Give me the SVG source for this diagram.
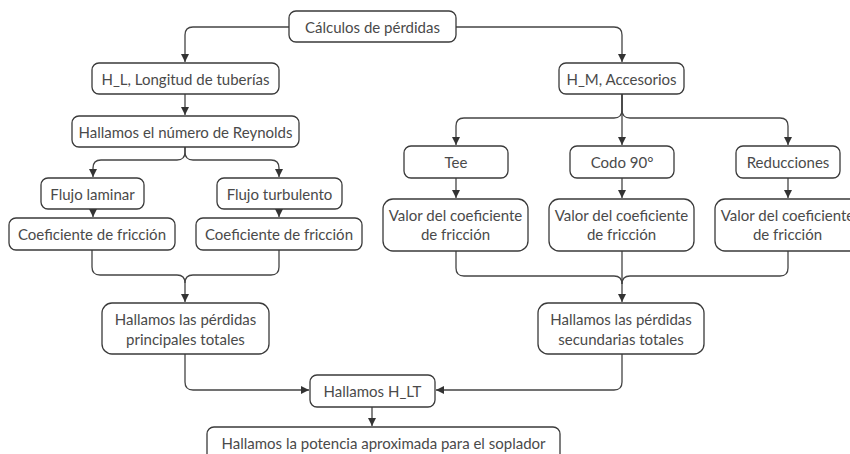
<svg xmlns="http://www.w3.org/2000/svg" width="850" height="454" viewBox="0 0 850 454">
<defs>
<style>
.b{fill:#fff;stroke:#3a3a3a;stroke-width:1.3}
.t{font-family:Lato,"Noto Sans",sans-serif;font-size:15px;fill:#4a4a4a;text-anchor:middle;dominant-baseline:central}
.c{fill:none;stroke:#444;stroke-width:1.3}
</style>
<marker id="a" viewBox="0 0 10 10" refX="10" refY="5" markerWidth="8" markerHeight="8" markerUnits="userSpaceOnUse" orient="auto">
<path d="M0,0L10,5L0,10z" fill="#333"/>
</marker>
</defs>
<rect width="850" height="454" fill="#fff"/>
<g id="connectors">
<path class="c" d="M289,27H193Q185,27 185,35V62" marker-end="url(#a)"/>
<path class="c" d="M456,27H614Q622,27 622,35V62" marker-end="url(#a)"/>
<path class="c" d="M185,94V115" marker-end="url(#a)"/>
<path class="c" d="M185,147V152Q185,160 177,160H101Q93,160 93,168V177" marker-end="url(#a)"/>
<path class="c" d="M185,147V152Q185,160 193,160H271Q279,160 279,168V177" marker-end="url(#a)"/>
<path class="c" d="M93,209V217" marker-end="url(#a)"/>
<path class="c" d="M279,209V217" marker-end="url(#a)"/>
<path class="c" d="M92,250V267Q92,275 100,275H177Q185,275 185,283V302" marker-end="url(#a)"/>
<path class="c" d="M279,250V267Q279,275 271,275H193Q185,275 185,283"/>
<path class="c" d="M622,94V110Q622,118 614,118H464Q456,118 456,126V145" marker-end="url(#a)"/>
<path class="c" d="M622,94V145" marker-end="url(#a)"/>
<path class="c" d="M622,94V110Q622,118 630,118H780Q788,118 788,126V145" marker-end="url(#a)"/>
<path class="c" d="M456,178V198" marker-end="url(#a)"/>
<path class="c" d="M622,178V198" marker-end="url(#a)"/>
<path class="c" d="M788,178V198" marker-end="url(#a)"/>
<path class="c" d="M456,251V268Q456,276 464,276H614Q622,276 622,284V302" marker-end="url(#a)"/>
<path class="c" d="M622,251V284"/>
<path class="c" d="M788,251V268Q788,276 780,276H630Q622,276 622,284"/>
<path class="c" d="M185,354V382Q185,390 193,390H309" marker-end="url(#a)"/>
<path class="c" d="M622,354V382Q622,390 614,390H436" marker-end="url(#a)"/>
<path class="c" d="M372,407V426" marker-end="url(#a)"/>
</g>
<g id="root"><rect class="b" x="289" y="11" width="167" height="31" rx="7"/><text class="t" x="372.5" y="26.5">Cálculos de pérdidas</text></g>
<g id="hl"><rect class="b" x="92" y="63" width="187" height="31" rx="7"/><text class="t" x="185.5" y="78.5">H_L, Longitud de tuberías</text></g>
<g id="hm"><rect class="b" x="559" y="63" width="125" height="31" rx="7"/><text class="t" x="621.5" y="78.5">H_M, Accesorios</text></g>
<g id="reynolds"><rect class="b" x="72" y="116" width="227" height="31" rx="7"/><text class="t" x="185.5" y="131.5">Hallamos el número de Reynolds</text></g>
<g id="laminar"><rect class="b" x="41" y="178" width="103" height="31" rx="7"/><text class="t" x="92.5" y="193.5">Flujo laminar</text></g>
<g id="turbulento"><rect class="b" x="217" y="178" width="125" height="31" rx="7"/><text class="t" x="279.5" y="193.5">Flujo turbulento</text></g>
<g id="coef1"><rect class="b" x="9" y="218" width="166" height="32" rx="7"/><text class="t" x="92" y="234">Coeficiente de fricción</text></g>
<g id="coef2"><rect class="b" x="196" y="218" width="166" height="32" rx="7"/><text class="t" x="279" y="234">Coeficiente de fricción</text></g>
<g id="principal"><rect class="b" x="102" y="303" width="167" height="51" rx="10"/><text class="t" x="185.5" y="319">Hallamos las pérdidas</text><text class="t" x="185.5" y="339">principales totales</text></g>
<g id="tee"><rect class="b" x="404" y="146" width="104" height="32" rx="7"/><text class="t" x="456" y="162">Tee</text></g>
<g id="codo"><rect class="b" x="570" y="146" width="104" height="32" rx="7"/><text class="t" x="622" y="162">Codo 90°</text></g>
<g id="reducciones"><rect class="b" x="736" y="146" width="104" height="32" rx="7"/><text class="t" x="788" y="162">Reducciones</text></g>
<g id="valor1"><rect class="b" x="383" y="199" width="145" height="52" rx="10"/><text class="t" x="455.5" y="215">Valor del coeficiente</text><text class="t" x="455.5" y="234">de fricción</text></g>
<g id="valor2"><rect class="b" x="549" y="199" width="145" height="52" rx="10"/><text class="t" x="621.5" y="215">Valor del coeficiente</text><text class="t" x="621.5" y="234">de fricción</text></g>
<g id="valor3"><rect class="b" x="715" y="199" width="145" height="52" rx="10"/><text class="t" x="787.5" y="215">Valor del coeficiente</text><text class="t" x="787.5" y="234">de fricción</text></g>
<g id="secundaria"><rect class="b" x="538" y="303" width="166" height="51" rx="10"/><text class="t" x="621" y="319">Hallamos las pérdidas</text><text class="t" x="621" y="339">secundarias totales</text></g>
<g id="hlt"><rect class="b" x="310" y="375" width="125" height="32" rx="7"/><text class="t" x="372.5" y="391">Hallamos H_LT</text></g>
<g id="potencia"><rect class="b" x="207" y="427" width="353" height="40" rx="7"/><text class="t" x="383.5" y="443">Hallamos la potencia aproximada para el soplador</text></g>
</svg>
